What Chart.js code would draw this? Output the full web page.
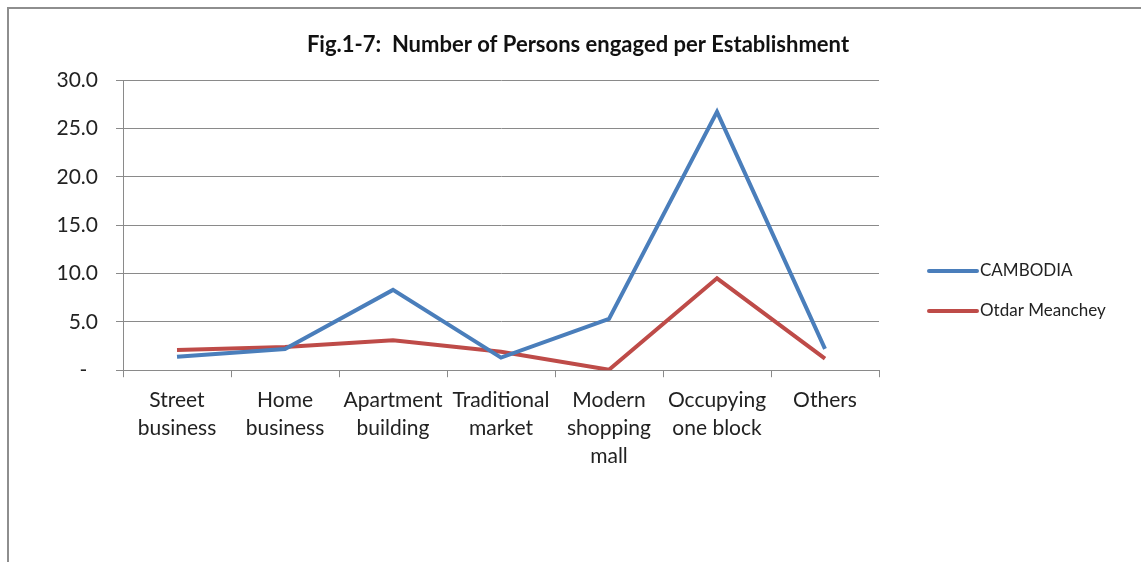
<!DOCTYPE html>
<html>
<head>
<meta charset="utf-8">
<script src="https://cdn.jsdelivr.net/npm/chart.js@4.4.0/dist/chart.umd.min.js"></script>
<style>
  html, body { margin: 0; padding: 0; background: #fff; overflow: hidden; }
  #frame { position: absolute; left: 7px; top: 7px; width: 1200px; height: 600px; border: 2px solid #8e8e8e; }
  #wrap { position: absolute; left: 0; top: 0; width: 1141px; height: 562px; }
</style>
</head>
<body>
<div id="frame"></div>
<div id="wrap"><canvas id="chart"></canvas></div>
<script>
var categories = [
    ['Street', 'business'],
    ['Home', 'business'],
    ['Apartment', 'building'],
    ['Traditional', 'market'],
    ['Modern', 'shopping', 'mall'],
    ['Occupying', 'one block'],
    ['Others']
];
var cambodia = [1.4, 2.2, 8.3, 1.3, 5.3, 26.7, 2.2];
var otdar = [2.1, 2.4, 3.1, 1.9, 0.05, 9.5, 1.2];
var seriesNames = ['CAMBODIA', 'Otdar Meanchey'];
var seriesColors = ['#4A7EBB', '#BE4B48'];
var titleText = 'Fig.1-7:  Number of Persons engaged per Establishment';

var FONT = 'Lato, "Open Sans", sans-serif';

// title centred on the whole frame, not on the plot, so drawn by hand
var frameTitle = {
    id: 'frameTitle',
    afterDraw: function (chart) {
        var ctx = chart.ctx;
        ctx.save();
        ctx.fillStyle = '#111';
        ctx.font = 'bold 22px ' + FONT;
        ctx.textAlign = 'center';
        ctx.textBaseline = 'middle';
        ctx.fillText(titleText, 578, 45);
        ctx.restore();
    }
};

// legend drawn by hand, line sample + text like the original
var sideLegend = {
    id: 'sideLegend',
    afterDraw: function (chart) {
        var ctx = chart.ctx;
        var x0 = chart.chartArea.right + 50;
        var ys = [271, 311];
        ctx.save();
        chart.data.datasets.forEach(function (ds, i) {
            ctx.strokeStyle = ds.borderColor;
            ctx.lineWidth = 4;
            ctx.lineCap = 'round';
            ctx.beginPath();
            ctx.moveTo(x0, ys[i]);
            ctx.lineTo(x0 + 48, ys[i]);
            ctx.stroke();
            ctx.fillStyle = '#222';
            ctx.font = '17px ' + FONT;
            ctx.textBaseline = 'middle';
            ctx.fillText(ds.label, x0 + 51, ys[i]);
        });
        ctx.restore();
    }
};

var ctx = document.getElementById('chart').getContext('2d');
var chart = new Chart(ctx, {
    type: 'line',
    data: {
        labels: categories,
        datasets: [{
            label: seriesNames[0],
            data: cambodia,
            borderColor: seriesColors[0],
            backgroundColor: seriesColors[0],
            borderWidth: 4,
            pointRadius: 0,
            tension: 0
        }, {
            label: seriesNames[1],
            data: otdar,
            borderColor: seriesColors[1],
            backgroundColor: seriesColors[1],
            borderWidth: 4,
            pointRadius: 0,
            tension: 0
        }]
    },
    options: {
        responsive: true,
        maintainAspectRatio: false,
        animation: false,
        layout: { padding: { left: 8, right: 262, top: 80, bottom: 83 } },
        plugins: {
            legend: { display: false },
            tooltip: { enabled: false },
            title: { display: false }
        },
        scales: {
            x: {
                offset: true,
                grid: { offset: true, drawOnChartArea: false, drawTicks: true, tickLength: 7, color: '#8a8a8a' },
                border: { color: '#8a8a8a', width: 1 },
                ticks: { color: '#222', font: { family: FONT, size: 21, lineHeight: 1.33 }, maxRotation: 0, autoSkip: false, padding: 9 }
            },
            y: {
                min: 0,
                max: 30,
                afterFit: function (s) { s.width = 115; },
                grid: { color: '#8a8a8a', tickLength: 7 },
                border: { color: '#8a8a8a', width: 1 },
                ticks: {
                    stepSize: 5,
                    color: '#222',
                    padding: 18,
                    font: { family: FONT, size: 21 },
                    callback: function (v) { return v === 0 ? '-  ' : v.toFixed(1); }
                }
            }
        }
    },
    plugins: [frameTitle, sideLegend]
});
</script>
</body>
</html>
